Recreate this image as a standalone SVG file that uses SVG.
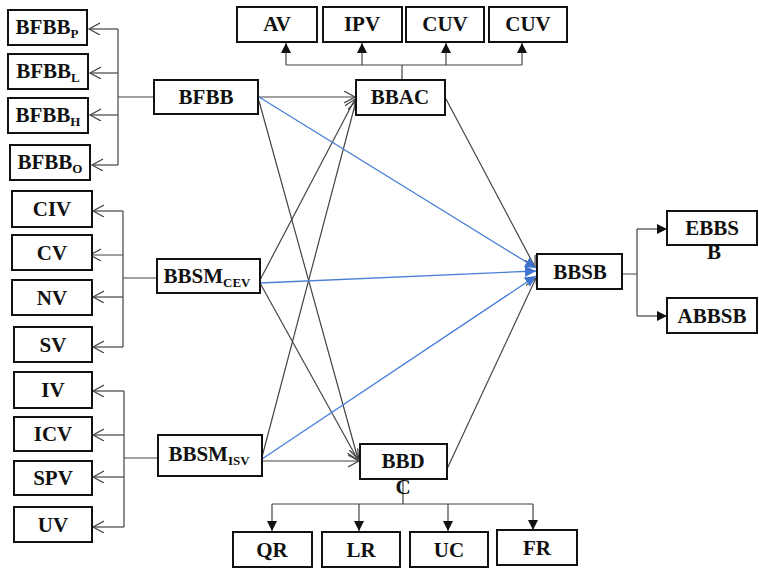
<svg xmlns="http://www.w3.org/2000/svg" width="759" height="570" viewBox="0 0 759 570">
<style>
.box{fill:#fff;stroke:#111;stroke-width:2}
.t{font-family:"Liberation Serif","DejaVu Serif",serif;font-weight:bold;font-size:21px;fill:#111;text-anchor:middle}
.sub{font-size:13px}
.ln{fill:none;stroke:#444;stroke-width:1.2}
.bl{fill:none;stroke:#4a7fd6;stroke-width:1.3}
.open{marker-end:url(#open)}
.fill{marker-end:url(#fillA)}
.blue{marker-end:url(#blueA)}
</style>
<defs>
<marker id="open" markerUnits="userSpaceOnUse" markerWidth="14" markerHeight="14" refX="11" refY="6" orient="auto">
<path d="M0,0 L11,6 L0,12" fill="none" stroke="#444" stroke-width="1.2"/>
</marker>
<marker id="fillA" markerUnits="userSpaceOnUse" markerWidth="12" markerHeight="12" refX="10" refY="5" orient="auto">
<path d="M0,0 L10,5 L0,10 Z" fill="#111"/>
</marker>
<marker id="blueA" markerUnits="userSpaceOnUse" markerWidth="14" markerHeight="14" refX="11" refY="5.5" orient="auto">
<path d="M0,0 L11,5.5 L0,11 Z" fill="#3f74d0"/>
</marker>
</defs>
<rect width="759" height="570" fill="#fff"/>

<g id="connectors">
<path class="ln" d="M118,29 L118,165 M118,97 L154,97"/>
<path class="ln open" d="M118,29 L89,29"/>
<path class="ln open" d="M118,73 L90,73"/>
<path class="ln open" d="M118,115 L90,115"/>
<path class="ln open" d="M118,165 L92,165"/>
<path class="ln" d="M123,211 L123,347 M123,278 L157,278"/>
<path class="ln open" d="M123,211 L93,211"/>
<path class="ln open" d="M123,255 L90,255"/>
<path class="ln open" d="M123,297 L93,297"/>
<path class="ln open" d="M123,347 L93,347"/>
<path class="ln" d="M124,391 L124,527 M124,458 L158,458"/>
<path class="ln open" d="M124,391 L93,391"/>
<path class="ln open" d="M124,435 L93,435"/>
<path class="ln open" d="M124,477 L93,477"/>
<path class="ln open" d="M124,527 L93,527"/>
<path class="ln" d="M402,80 L402,65 M286,65 L522,65"/>
<path class="ln fill" d="M286,65 L286,43"/>
<path class="ln fill" d="M362,65 L362,43"/>
<path class="ln fill" d="M446,65 L446,43"/>
<path class="ln fill" d="M522,65 L522,43"/>
<path class="ln" d="M403,479 L403,504 M272,504 L533,504"/>
<path class="ln fill" d="M272,504 L272,531"/>
<path class="ln fill" d="M359,504 L359,531"/>
<path class="ln fill" d="M448,504 L448,531"/>
<path class="ln fill" d="M533,504 L533,530"/>
<path class="ln" d="M622,274 L637,274 M637,229 L637,316"/>
<path class="ln fill" d="M637,229 L667,229"/>
<path class="ln fill" d="M637,316 L667,316"/>
<path class="ln open" d="M258,97 L355,97"/>
<path class="ln open" d="M260,280 L355,99"/>
<path class="ln open" d="M262,457 L356,101"/>
<path class="ln open" d="M259,101 L358,459"/>
<path class="ln open" d="M260,283 L358,460"/>
<path class="ln open" d="M262,461 L359,461"/>
<path class="ln open" d="M446,99 L535,267"/>
<path class="ln open" d="M447,469 L536,278"/>
<path class="bl blue" d="M259,97 L536,268"/>
<path class="bl blue" d="M260,283 L536,271"/>
<path class="bl blue" d="M262,459 L536,276"/>
</g>

<g id="BFBB_P"><rect class="box" x="8" y="10" width="79" height="35"/><text class="t" x="47" y="34">BFBB<tspan class="sub" dy="4">P</tspan></text></g>
<g id="BFBB_L"><rect class="box" x="8" y="54" width="80" height="35"/><text class="t" x="48" y="78">BFBB<tspan class="sub" dy="4">L</tspan></text></g>
<g id="BFBB_H"><rect class="box" x="8" y="98" width="80" height="35"/><text class="t" x="48" y="122">BFBB<tspan class="sub" dy="4">H</tspan></text></g>
<g id="BFBB_O"><rect class="box" x="10" y="145" width="80" height="35"/><text class="t" x="50" y="169">BFBB<tspan class="sub" dy="4">O</tspan></text></g>

<g id="CIV"><rect class="box" x="12" y="191" width="80" height="36"/><text class="t" x="52" y="216">CIV</text></g>
<g id="CV"><rect class="box" x="12" y="235" width="80" height="35"/><text class="t" x="52" y="260">CV</text></g>
<g id="NV"><rect class="box" x="12" y="280" width="80" height="35"/><text class="t" x="52" y="305">NV</text></g>
<g id="SV"><rect class="box" x="14" y="327" width="78" height="35"/><text class="t" x="53" y="352">SV</text></g>

<g id="IV"><rect class="box" x="14" y="372" width="78" height="36"/><text class="t" x="53" y="397">IV</text></g>
<g id="ICV"><rect class="box" x="14" y="417" width="78" height="34"/><text class="t" x="53" y="441">ICV</text></g>
<g id="SPV"><rect class="box" x="14" y="461" width="78" height="34"/><text class="t" x="53" y="485">SPV</text></g>
<g id="UV"><rect class="box" x="14" y="507" width="78" height="35"/><text class="t" x="53" y="532">UV</text></g>

<g id="BFBB"><rect class="box" x="154" y="80" width="104" height="34"/><text class="t" x="206" y="104">BFBB</text></g>
<g id="BBSM_CEV"><rect class="box" x="157" y="259" width="103" height="34"/><text class="t" x="207" y="283">BBSM<tspan class="sub" dy="4">CEV</tspan></text></g>
<g id="BBSM_ISV"><rect class="box" x="158" y="435" width="104" height="41"/><text class="t" x="209" y="461">BBSM<tspan class="sub" dy="4">ISV</tspan></text></g>

<g id="AV"><rect class="box" x="237" y="7" width="80" height="35"/><text class="t" x="277" y="31">AV</text></g>
<g id="IPV"><rect class="box" x="323" y="7" width="79" height="35"/><text class="t" x="362" y="31">IPV</text></g>
<g id="CUV1"><rect class="box" x="406" y="7" width="78" height="35"/><text class="t" x="445" y="31">CUV</text></g>
<g id="CUV2"><rect class="box" x="489" y="7" width="78" height="35"/><text class="t" x="528" y="31">CUV</text></g>

<g id="BBAC"><rect class="box" x="356" y="80" width="89" height="35"/><text class="t" x="400" y="104">BBAC</text></g>
<g id="BBDC"><rect class="box" x="360" y="444" width="87" height="35"/><text class="t" x="403" y="468">BBD</text><text class="t" x="403" y="494">C</text></g>

<g id="QR"><rect class="box" x="233" y="532" width="79" height="35"/><text class="t" x="272" y="557">QR</text></g>
<g id="LR"><rect class="box" x="322" y="532" width="78" height="35"/><text class="t" x="361" y="557">LR</text></g>
<g id="UC"><rect class="box" x="410" y="532" width="78" height="35"/><text class="t" x="449" y="557">UC</text></g>
<g id="FR"><rect class="box" x="497" y="530" width="80" height="35"/><text class="t" x="537" y="555">FR</text></g>

<g id="BBSB"><rect class="box" x="537" y="254" width="85" height="35"/><text class="t" x="580" y="279">BBSB</text></g>
<g id="EBBSB"><rect class="box" x="667" y="211" width="90" height="34"/><text class="t" x="712" y="235">EBBS</text><text class="t" x="714" y="259">B</text></g>
<g id="ABBSB"><rect class="box" x="667" y="298" width="90" height="35"/><text class="t" x="712" y="323">ABBSB</text></g>
</svg>
